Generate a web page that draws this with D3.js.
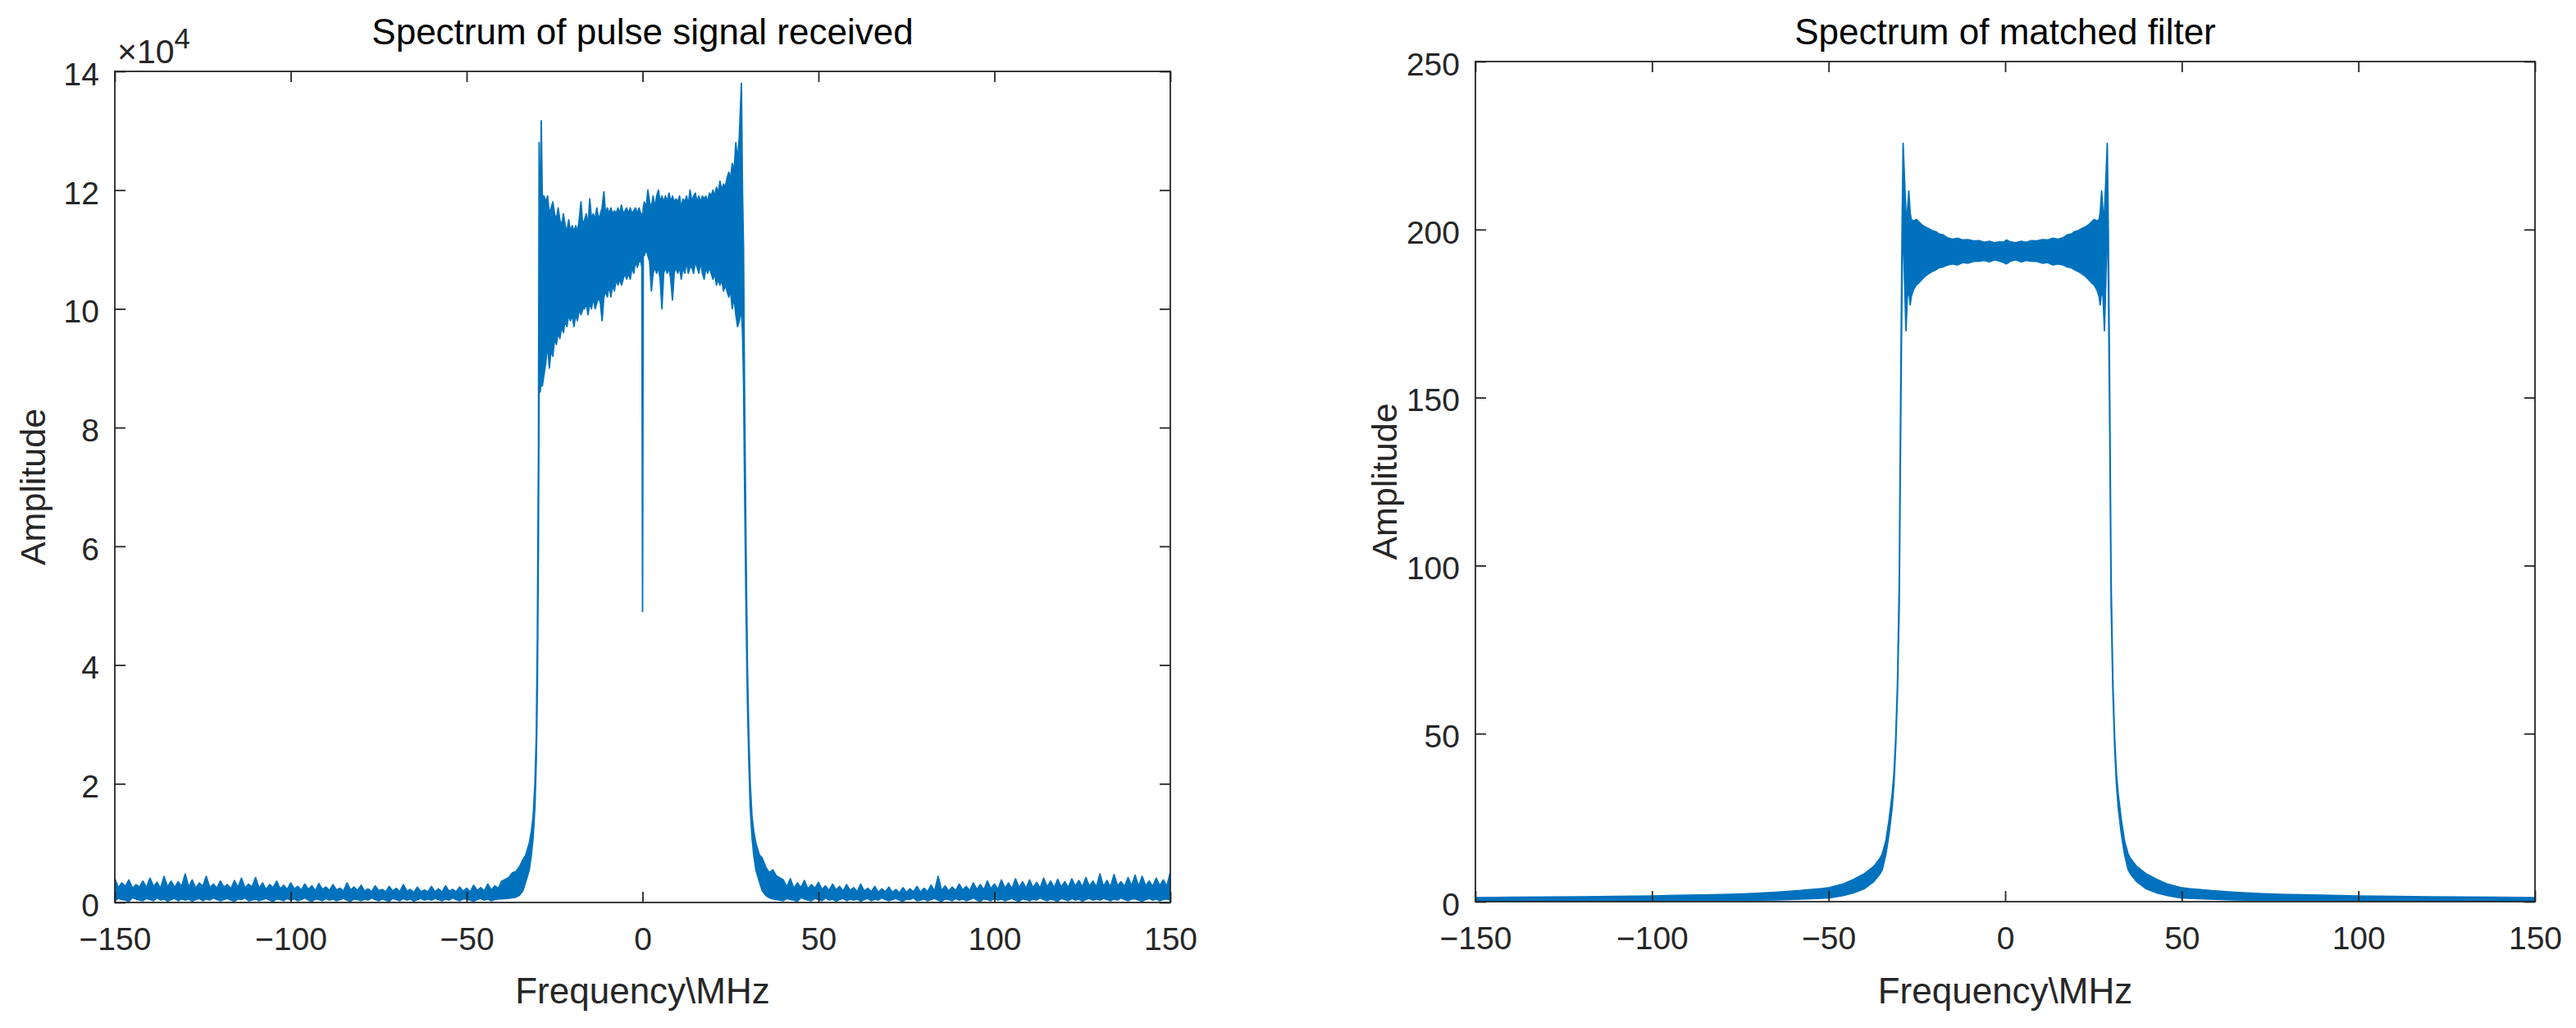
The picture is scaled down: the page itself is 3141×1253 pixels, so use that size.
<!DOCTYPE html>
<html><head><meta charset="utf-8">
<script src="https://cdn.jsdelivr.net/npm/d3@7"></script>
<style>
body{margin:0;background:#fff;}
svg text{font-family:"Liberation Sans",Arial,Helvetica,sans-serif;}
</style>
</head><body>
<svg id="chart" width="3141" height="1253"></svg>
<script>
// ---------------- DATA ----------------
const xTickValues = [-150, -100, -50, 0, 50, 100, 150];
const leftYTickValues = [0, 2, 4, 6, 8, 10, 12, 14];   // units of 10^4
const rightYTickValues = [0, 50, 100, 150, 200, 250];
const titles = ["Spectrum of pulse signal received", "Spectrum of matched filter"];
const xLabel = "Frequency\\MHz";
const yLabel = "Amplitude";

// Left panel: received pulse spectrum, upper / lower envelope of the trace (x10^4)
const leftFreq = [
 -150,-149,-148,-147,-146,-145,-144,-143,-142,-141,
 -140,-139,-138,-137,-136,-135,-134,-133,-132,-131,
 -130,-129,-128,-127,-126,-125,-124,-123,-122,-121,
 -120,-119,-118,-117,-116,-115,-114,-113,-112,-111,
 -110,-109,-108,-107,-106,-105,-104,-103,-102,-101,
 -100,-99,-98,-97,-96,-95,-94,-93,-92,-91,
 -90,-89,-88,-87,-86,-85,-84,-83,-82,-81,
 -80,-79,-78,-77,-76,-75,-74,-73,-72,-71,
 -70,-69,-68,-67,-66,-65,-64,-63,-62,-61,
 -60,-59,-58,-57,-56,-55,-54,-53,-52,-51,
 -50,-49,-48,-47,-46,-45,-44,-43,-42,-41,
 -40,-38,-37,-36,-35,-34,-33.2,-32.2,-31.6,-31.1,
 -30.6,-30.2,-29.9,-29.6,-29.4,-29.1,-28.8,-28.5,-28,-27.5,
 -27,-26.5,-26,-25.5,-25,-24.5,-24,-23.5,-23,-22.5,
 -22,-21.5,-21,-20.5,-20,-19.5,-19,-18.5,-18,-17.5,
 -17,-16.5,-16,-15.5,-15,-14.5,-14,-13.5,-13,-12.5,
 -12,-11.5,-11,-10.5,-10,-9.5,-9,-8.5,-8,-7.5,
 -7,-6.5,-6,-5.5,-5,-4.5,-4,-3.5,-3,-2.5,
 -2,-1.5,-1,-0.5,-0.2,0,0.2,0.5,1,1.5,
 2,2.5,3,3.5,4,4.5,5,5.5,6,6.5,
 7,7.5,8,8.5,9,9.5,10,10.5,11,11.5,
 12,12.5,13,13.5,14,14.5,15,15.5,16,16.5,
 17,17.5,18,18.5,19,19.5,20,20.5,21,21.5,
 22,22.5,23,23.5,24,24.5,25,25.5,26,26.5,
 27,27.5,28.1,28.4,28.7,29,29.4,29.8,30.2,30.6,
 31.1,31.6,32.2,33.2,34,35,36,37,38,
 40,41,42,43,44,45,46,47,48,49,
 50,51,52,53,54,55,56,57,58,59,
 60,61,62,63,64,65,66,67,68,69,
 70,71,72,73,74,75,76,77,78,79,
 80,81,82,83,84,85,86,87,88,89,
 90,91,92,93,94,95,96,97,98,99,
 100,101,102,103,104,105,106,107,108,109,
 110,111,112,113,114,115,116,117,118,119,
 120,121,122,123,124,125,126,127,128,129,
 130,131,132,133,134,135,136,137,138,139,
 140,141,142,143,144,145,146,147,148,149,150
];
const leftHi = [
 .40,.25,.33,.27,.38,.24,.30,.26,.36,.25,
 .41,.27,.34,.24,.44,.26,.36,.25,.35,.27,
 .48,.26,.38,.24,.33,.27,.44,.25,.31,.24,
 .36,.26,.30,.23,.37,.25,.41,.24,.31,.26,
 .42,.24,.33,.22,.30,.25,.36,.23,.29,.22,
 .33,.23,.27,.21,.31,.22,.28,.20,.32,.22,
 .26,.20,.30,.21,.24,.19,.33,.21,.26,.20,
 .29,.19,.23,.18,.28,.20,.22,.18,.27,.19,
 .24,.18,.30,.19,.22,.17,.26,.18,.21,.18,
 .27,.18,.23,.17,.28,.19,.22,.18,.26,.19,
 .24,.18,.29,.20,.25,.19,.31,.21,.28,.24,
 .36,.42,.50,.52,.60,.72,.80,1.0,1.2,1.45,
 2.0,2.8,4.5,7.5,12.8,10.9,13.17,11.9,11.9,11.8,
 11.9,11.6,11.7,11.8,11.6,11.5,11.7,11.5,11.4,11.6,
 11.4,11.3,11.5,11.3,11.4,11.3,11.4,11.3,11.5,11.8,
 11.4,11.5,11.6,11.4,11.85,11.5,11.6,11.5,11.7,11.5,
 11.6,11.7,11.97,11.6,11.7,11.6,11.7,11.6,11.65,11.6,
 11.7,11.6,11.75,11.6,11.65,11.7,11.6,11.7,11.6,11.65,
 11.7,11.6,11.7,11.6,11.6,11.5,11.7,11.8,11.7,12.0,
 11.8,11.7,11.9,11.7,11.9,12.0,11.8,11.9,11.8,11.9,
 11.8,11.95,11.8,11.9,11.8,11.85,11.8,11.9,11.7,11.85,
 11.8,11.9,11.75,12.0,11.8,11.9,11.95,11.8,11.9,11.8,
 11.9,11.85,11.9,11.8,11.95,11.9,12.0,11.9,12.05,11.95,
 12.15,12.0,12.1,12.05,12.2,12.3,12.2,12.45,12.3,12.8,
 12.5,12.9,13.8,12.0,11.0,8.5,6.0,4.0,2.8,2.0,
 1.45,1.2,1.0,0.80,0.75,.60,.50,.55,.45,
 .38,.26,.40,.24,.33,.25,.37,.23,.30,.24,
 .34,.22,.28,.20,.31,.21,.27,.19,.30,.20,
 .25,.18,.31,.19,.24,.18,.27,.17,.23,.18,
 .26,.17,.22,.16,.25,.17,.23,.18,.27,.17,
 .24,.18,.29,.19,.44,.20,.28,.19,.26,.20,
 .31,.21,.27,.20,.33,.22,.30,.21,.36,.23,
 .31,.22,.38,.24,.33,.23,.40,.25,.35,.24,
 .38,.25,.34,.24,.41,.26,.36,.25,.39,.26,
 .35,.25,.40,.27,.37,.26,.42,.27,.36,.26,
 .48,.27,.37,.26,.47,.28,.35,.27,.42,.28,
 .46,.27,.44,.28,.36,.27,.41,.28,.38,.27,.51
];
const leftLo = [
 .03,.07,.05,.04,.02,.08,.06,.04,.03,.07,
 .05,.03,.08,.04,.06,.02,.05,.07,.03,.06,
 .04,.06,.02,.05,.07,.03,.06,.04,.08,.05,
 .03,.05,.07,.04,.02,.06,.05,.08,.03,.04,
 .06,.03,.05,.07,.04,.02,.06,.05,.03,.07,
 .04,.06,.03,.05,.08,.04,.02,.06,.05,.03,
 .07,.04,.06,.03,.05,.07,.04,.02,.06,.05,
 .03,.06,.04,.08,.05,.03,.06,.04,.02,.07,
 .05,.03,.07,.04,.06,.02,.05,.07,.04,.06,
 .04,.07,.05,.03,.06,.04,.08,.05,.03,.06,
 .06,.04,.02,.05,.07,.04,.06,.03,.05,.06,
 .06,.07,.08,.09,.12,.20,.35,.55,.80,1.1,
 1.6,2.4,3.6,6.0,8.8,8.6,8.8,8.7,8.9,9.1,
 9.4,9.0,9.3,9.2,9.5,9.4,9.6,9.5,9.7,9.6,
 9.8,9.7,9.9,9.8,9.9,9.7,9.9,9.8,10.0,9.9,
 10.0,10.0,10.1,9.9,10.1,10.0,10.2,10.0,10.1,10.2,
 10.1,9.8,10.2,10.3,10.2,10.4,10.2,10.4,10.3,10.5,
 10.4,10.5,10.4,10.5,10.6,10.5,10.6,10.5,10.7,10.6,
 10.8,10.7,10.8,10.8,10.7,4.9,10.9,10.9,11.0,10.9,
 10.8,10.3,10.6,10.7,10.6,10.7,10.5,10.0,10.6,10.7,
 10.6,10.7,10.5,10.15,10.6,10.7,10.6,10.7,10.5,10.7,
 10.6,10.8,10.6,10.7,10.7,10.6,10.8,10.7,10.6,10.8,
 10.6,10.5,10.7,10.6,10.7,10.6,10.5,10.6,10.4,10.5,
 10.4,10.5,10.3,10.4,10.3,10.2,10.3,10.0,10.2,9.9,
 9.7,9.8,10.0,9.6,8.8,7.0,5.0,3.4,2.4,1.6,
 1.1,0.80,0.55,0.35,0.20,.12,.08,.06,.05,
 .03,.07,.05,.04,.02,.08,.06,.04,.03,.07,
 .05,.03,.08,.04,.06,.02,.05,.07,.03,.06,
 .04,.06,.02,.05,.07,.03,.06,.04,.08,.05,
 .03,.05,.07,.04,.02,.06,.05,.08,.03,.04,
 .06,.03,.05,.07,.04,.02,.06,.05,.03,.07,
 .04,.06,.03,.05,.08,.04,.02,.06,.05,.03,
 .07,.04,.06,.03,.05,.07,.04,.02,.06,.05,
 .03,.06,.04,.08,.05,.03,.06,.04,.02,.07,
 .05,.03,.07,.04,.06,.02,.05,.07,.04,.06,
 .04,.07,.05,.03,.06,.04,.08,.05,.03,.06,
 .06,.04,.02,.05,.07,.04,.06,.03,.05,.06,.04
];

// Right panel: matched filter spectrum, upper / lower envelope of the trace
const rightFreq = [
 -150,-140,-130,-120,-111,-100,-90,-80,-73,-65,
 -58,-52,-49.7,-46,-43,-40,-37.2,-35.5,-34.8,-33.8,
 -32.9,-32,-31.5,-31,-30.5,-30,-29.6,-29.2,-28.9,-28.5,
 -28.1,-27.7,-27.3,-26.9,-26.6,-26,-25.2,-24.6,-23.7,-22.7,
 -21.5,-20.5,-19.5,-18.8,-17.5,-16.5,-15,-13.5,-12,-10.5,
 -9,-7.3,-6,-4.5,-3,-1.5,-0.5,0.4,1.5,3,
 4.5,6,7.3,9,10.5,12,13.5,15,16.5,17.5,
 18.8,19.5,20.5,21.5,22.7,23.7,24.6,25.2,26,26.6,
 26.9,27.3,27.7,28.1,28.5,28.9,29.2,29.6,30,30.5,
 31,31.5,32,32.9,33.8,34.8,35.5,37.2,40,43,
 46,49.7,52,58,65,73,80,90,100,111,
 120,130,140,150
];
const rightHi = [
 1.2,1.3,1.35,1.45,1.55,1.7,1.9,2.1,2.36,2.8,
 3.3,3.9,4.2,5.2,6.6,8.2,10.5,12.8,14.2,18,
 24.2,32,38,48.6,65,95,150,200,225.7,215,
 205,205,211.5,205,203,202.5,203,202.4,201.5,200.8,
 200.2,199.6,199.3,198.7,198.4,197.6,197.1,197.4,196.9,197.0,
 196.6,196.7,196.2,196.5,196.1,196.4,196.2,196.9,196.3,196.1,
 196.5,196.2,196.7,196.6,197.0,196.9,197.4,197.1,197.6,198.4,
 198.7,199.3,199.6,200.2,200.8,201.5,202.4,203,202.5,203,
 205,211.5,205,205,215,225.7,200,150,95,65,
 48.6,38,32,24.2,18,14.2,12.8,10.5,8.2,6.6,
 5.2,4.2,3.9,3.3,2.8,2.36,2.1,1.9,1.7,1.55,
 1.45,1.35,1.3,1.2
];
const rightLo = [
 0.1,0.1,0.15,0.15,0.15,0.2,0.3,0.35,0.41,0.55,
 0.75,1.0,1.14,1.8,2.6,3.8,6.0,8.2,9.5,14,
 20,28,35,46,62,88,140,185,205,185,
 169.9,180,182,177.6,180,182,183.5,184,185,186.1,
 187.0,187.6,188.1,188.6,188.9,189.4,189.8,189.5,190.2,190.0,
 190.5,190.6,190.8,190.4,191.0,190.6,190.2,189.8,190.6,191.0,
 190.4,190.8,190.6,190.5,190.0,190.2,189.5,189.8,189.4,188.9,
 188.6,188.1,187.6,187.0,186.1,185,184,183.5,182,180,
 177.6,182,180,169.9,185,205,185,140,88,62,
 46,35,28,20,14,9.5,8.2,6.0,3.8,2.6,
 1.8,1.14,1.0,0.75,0.55,0.41,0.35,0.3,0.2,0.15,
 0.15,0.15,0.1,0.1
];

// ---------------- DRAWING ----------------
const BLUE = "#0072BD";
const AXC = "#262626";
const FONT = "'Liberation Sans', Arial, Helvetica, sans-serif";
const svg = d3.select("#chart");

const panels = [
  {key:"L", x0:140, x1:1427, y0:87, y1:1100, yMax:14, yTicks:leftYTickValues,
   freq:leftFreq, hi:leftHi, lo:leftLo, title:titles[0], ylabX:55, exponent:true},
  {key:"R", x0:1799, x1:3091, y0:75, y1:1099, yMax:250, yTicks:rightYTickValues,
   freq:rightFreq, hi:rightHi, lo:rightLo, title:titles[1], ylabX:1703, exponent:false}
];

panels.forEach(p => {
  const x = d3.scaleLinear().domain([-150, 150]).range([p.x0, p.x1]);
  const y = d3.scaleLinear().domain([0, p.yMax]).range([p.y1, p.y0]);
  const g = svg.append("g");

  svg.append("clipPath").attr("id", "clip" + p.key)
    .append("rect").attr("x", p.x0).attr("y", p.y0)
    .attr("width", p.x1 - p.x0).attr("height", p.y1 - p.y0);

  const n = Math.min(p.freq.length, p.hi.length, p.lo.length);
  const pts = p.freq.slice(0, n).map((f, i) => ({f: f, hi: p.hi[i], lo: p.lo[i]}));
  const area = d3.area().x(d => x(d.f)).y0(d => y(d.lo)).y1(d => y(d.hi));
  g.append("path")
    .attr("clip-path", "url(#clip" + p.key + ")")
    .attr("d", area(pts))
    .attr("fill", BLUE).attr("stroke", BLUE)
    .attr("stroke-width", 1.8).attr("stroke-linejoin", "round");

  // axes (ticks pointing inward, box on)
  const styleAxis = sel => {
    sel.attr("font-size", 39).attr("font-family", FONT).attr("color", AXC);
    sel.select(".domain").remove();
    sel.selectAll(".tick line").attr("stroke-width", 1.8);
  };
  svg.append("g").attr("transform", `translate(0,${p.y1})`)
    .call(d3.axisBottom(x).tickValues(xTickValues).tickSizeInner(-13).tickSizeOuter(0).tickPadding(30))
    .call(styleAxis);
  svg.append("g").attr("transform", `translate(0,${p.y0})`)
    .call(d3.axisTop(x).tickValues(xTickValues).tickSizeInner(-13).tickSizeOuter(0).tickFormat(() => ""))
    .call(styleAxis);
  const gl = svg.append("g").attr("transform", `translate(${p.x0},0)`)
    .call(d3.axisLeft(y).tickValues(p.yTicks).tickSizeInner(-13).tickSizeOuter(0).tickPadding(19))
    .call(styleAxis);
  gl.selectAll(".tick text").attr("dy", "0.42em");
  svg.append("g").attr("transform", `translate(${p.x1},0)`)
    .call(d3.axisRight(y).tickValues(p.yTicks).tickSizeInner(-13).tickSizeOuter(0).tickFormat(() => ""))
    .call(styleAxis);

  svg.append("rect").attr("x", p.x0).attr("y", p.y0)
    .attr("width", p.x1 - p.x0).attr("height", p.y1 - p.y0)
    .attr("fill", "none").attr("stroke", AXC).attr("stroke-width", 1.8);

  // title
  svg.append("text").attr("x", (p.x0 + p.x1) / 2).attr("y", 54)
    .attr("text-anchor", "middle").attr("font-size", 44).attr("fill", "#000")
    .attr("font-family", FONT).text(p.title);
  // x label
  svg.append("text").attr("x", (p.x0 + p.x1) / 2).attr("y", 1223)
    .attr("text-anchor", "middle").attr("font-size", 44).attr("fill", AXC)
    .attr("font-family", FONT).text(xLabel);
  // y label
  const cy = (p.y0 + p.y1) / 2;
  svg.append("text").attr("transform", `translate(${p.ylabX},${cy}) rotate(-90)`)
    .attr("text-anchor", "middle").attr("font-size", 43).attr("fill", AXC)
    .attr("font-family", FONT).text(yLabel);

  if (p.exponent) {
    const t = svg.append("text").attr("x", 143).attr("y", 77)
      .attr("font-size", 41).attr("fill", AXC).attr("font-family", FONT);
    t.append("tspan").text("\u00D710");
    t.append("tspan").attr("dy", -18).attr("font-size", 35).text("4");
  }
});
</script>
</body></html>
